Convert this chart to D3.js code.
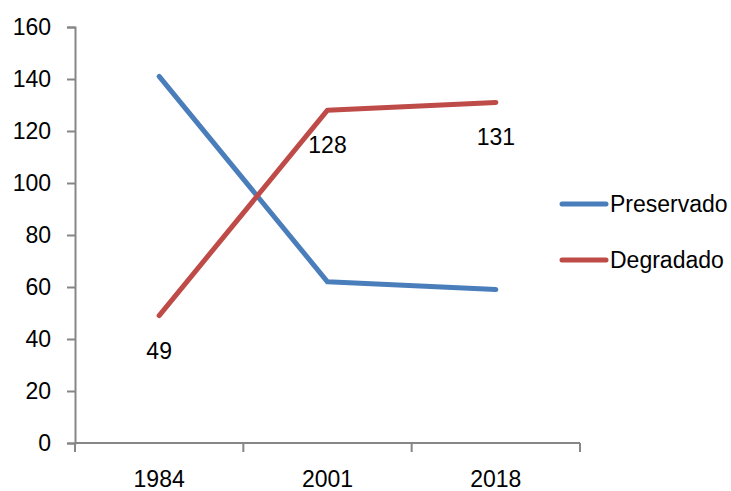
<!DOCTYPE html>
<html><head><meta charset="utf-8">
<script src="https://cdn.jsdelivr.net/npm/d3@7"></script>
<style>body{margin:0;background:#fff}svg{display:block}text{font-family:"Liberation Sans",Arial,sans-serif}</style>
</head><body>
<script>
const categories = ["1984", "2001", "2018"];
const preservado = [141, 62, 59];
const degradado = [49, 128, 131];
const yTicks = [0, 20, 40, 60, 80, 100, 120, 140, 160];
const seriesNames = ["Preservado", "Degradado"];
const colors = ["#4A7EBB", "#BE4B48"];

const W = 731, H = 491;
const svg = d3.select("body").append("svg").attr("width", W).attr("height", H);
const x = d3.scaleBand().domain(categories).range([75, 580]);
const y = d3.scaleLinear().domain([0, 160]).range([443, 27]);
const axisColor = "#868686";
const fs = 23;

// Y axis
const ya = svg.append("g").attr("transform", "translate(75,0)")
  .call(d3.axisLeft(y).tickValues(yTicks).tickSize(8).tickPadding(16));
ya.select(".domain").attr("stroke", axisColor).attr("stroke-width", 2);
ya.selectAll(".tick line").attr("stroke", axisColor).attr("stroke-width", 2);
ya.selectAll(".tick text").attr("font-size", fs).attr("fill", "#000").attr("font-family", "Liberation Sans, Arial, sans-serif");

// X axis (ticks between categories)
const xg = svg.append("g").attr("transform", "translate(0,443)");
xg.append("line").attr("x1", 75).attr("x2", 580).attr("stroke", axisColor).attr("stroke-width", 2);
const bounds = categories.map(c => x(c)).concat([x(categories[categories.length-1]) + x.bandwidth()]);
xg.selectAll("line.t").data(bounds).enter().append("line").attr("class","t")
  .attr("x1", d => d).attr("x2", d => d).attr("y1", 0).attr("y2", 9)
  .attr("stroke", axisColor).attr("stroke-width", 2);
xg.selectAll("text").data(categories).enter().append("text")
  .attr("x", d => x(d) + x.bandwidth()/2).attr("y", 44)
  .attr("text-anchor", "middle").attr("font-size", fs).attr("fill", "#000").text(d => d);

const cx = c => x(c) + x.bandwidth()/2;
const line = d3.line().x((d,i) => cx(categories[i])).y(d => y(d));
[preservado, degradado].forEach((s, k) => {
  svg.append("path").attr("d", line(s)).attr("fill", "none")
    .attr("stroke", colors[k]).attr("stroke-width", 5)
    .attr("stroke-linecap", "round").attr("stroke-linejoin", "round");
});

// Data labels for Degradado
svg.selectAll("text.lbl").data(degradado).enter().append("text").attr("class","lbl")
  .attr("x", (d,i) => cx(categories[i])).attr("y", d => y(d) + 43)
  .attr("text-anchor", "middle").attr("font-size", fs).attr("fill", "#000").text(d => d);

// Legend
seriesNames.forEach((n, k) => {
  const ly = 204 + k * 56;
  svg.append("line").attr("x1", 562).attr("x2", 606).attr("y1", ly).attr("y2", ly)
    .attr("stroke", colors[k]).attr("stroke-width", 5).attr("stroke-linecap", "round");
  svg.append("text").attr("x", 610).attr("y", ly + 8).attr("font-size", fs).attr("fill", "#000").text(n);
});
</script>
</body></html>
